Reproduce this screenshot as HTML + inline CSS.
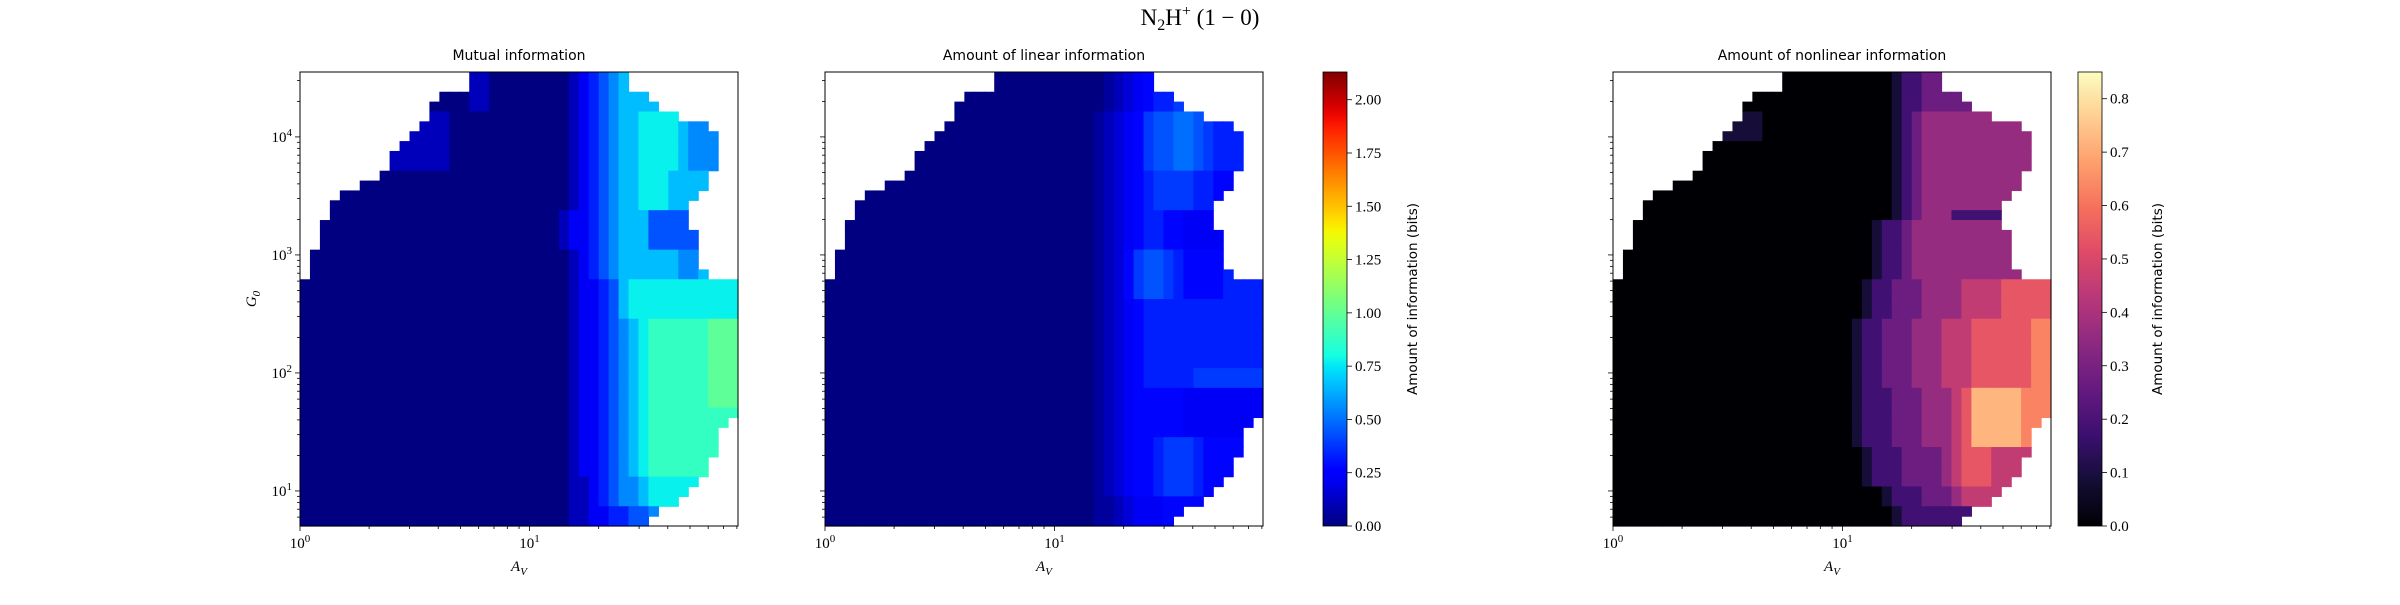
<!DOCTYPE html>
<html><head><meta charset="utf-8"><style>
html,body{margin:0;padding:0;background:#fff;}
svg text{font-family:"Liberation Serif",serif;}
.sans{font-family:"DejaVu Sans","Liberation Sans",sans-serif !important;}
</style></head><body>
<svg id="fig" width="2400" height="600" viewBox="0 0 2400 600" xmlns="http://www.w3.org/2000/svg">
<text x="1200" y="25" text-anchor="middle" font-size="23">N<tspan font-size="16" dy="5">2</tspan><tspan dy="-5">H</tspan><tspan font-size="16" dy="-9">+</tspan><tspan dy="9"> (1 − 0)</tspan></text>
<g id="layer"></g>
</svg>
<script>
const logAvRange = [0, 1.908];
const logG0Range = [0.703, 4.55];
const nCols = 44;
const rowStart = [17,17,14,13,13,12,11,10,9,9,8,6,4,3,3,2,2,2,1,1,1,0,0,0,0,0,0,0,0,0,0,0,0,0,0,0,0,0,0,0,0,0,0,0,0,0];
const rowEnd   = [32,32,34,35,37,40,41,41,41,41,40,40,39,38,38,38,39,39,39,39,40,43,43,43,43,43,43,43,43,43,43,43,43,43,43,42,41,41,41,40,40,39,38,37,35,34];

// Mutual information: row patterns (digit * 0.11 bits) and how many rows each covers (top to bottom)
const mutualPatterns = [
"0000000000 0000000110 0000000123 4566667666 6666",
"0000000001 1111100000 0000000123 4566777765 5555",
"0000000000 0000000000 0000000123 4566777666 6666",
"0000000000 0000000000 0000001223 4566644444 4444",
"0000000000 0000000000 0000000123 4566666655 6666",
"0000000000 0000000000 0000000122 3467777777 7777",
"0000000000 0000000000 0000000122 3456788888 8999",
"0000000000 0000000000 0000000122 3456788888 8888",
"0000000000 0000000000 0000000112 3455677777 7777",
"0000000000 0000000000 0000000112 2334455555 5555"];
const mutualCounts = [4,6,4,4,3,4,9,7,3,2];
const mutualStep = 0.11;

// Linear information (digit * 0.055 bits)
const linearPatterns = [
"0000000000 0000000000 0000000012 3456677777 7777",
"0000000000 0000000000 0000000123 4578899876 6666",
"0000000000 0000000000 0000000123 4567777665 5555",
"0000000000 0000000000 0000000123 4566554444 4444",
"0000000000 0000000000 0000000123 5788765555 6666",
"0000000000 0000000000 0000000123 4566666666 6666",
"0000000000 0000000000 0000000123 4566666777 7777",
"0000000000 0000000000 0000000123 4555554444 4444",
"0000000000 0000000000 0000000123 4556777655 5555",
"0000000000 0000000000 0000000112 3444555555 5555"];
const linearCounts = [4,6,4,4,5,7,2,5,6,3];
const linearStep = 0.055;

// Nonlinear information (digit * 0.09 bits)
const nonlinearPatterns = [
"0000000000 0000000000 0000000012 2333333333 3333",
"0000000000 0111100000 0000000012 3444444444 4444",
"0000000000 0000000000 0000000012 3444444444 4444",
"0000000000 0000000000 0000000012 3444222224 4444",
"0000000000 0000000000 0000001223 4444444444 4444",
"0000000000 0000000000 0000012233 3444455556 6666",
"0000000000 0000000000 0000122333 4445556666 6677",
"0000000000 0000000000 0000122233 3444568888 8777",
"0000000000 0000000000 0000012223 3334566655 5555",
"0000000000 0000000000 0000000122 2333455555 5555",
"0000000000 0000000000 0000000012 2222222222 2222"];
const nonlinearCounts = [4,3,7,1,6,4,7,6,4,2,2];
const nonlinearStep = 0.09;

const jetTicks = [0,0.25,0.5,0.75,1.0,1.25,1.5,1.75,2.0];
const jetTickLabels = ["0.00","0.25","0.50","0.75","1.00","1.25","1.50","1.75","2.00"];
const jetMax = 2.13;
const magmaTicks = [0,0.1,0.2,0.3,0.4,0.5,0.6,0.7,0.8];
const magmaTickLabels = ["0.0","0.1","0.2","0.3","0.4","0.5","0.6","0.7","0.8"];
const magmaMax = 0.85;

const NS="http://www.w3.org/2000/svg";
const layer=document.getElementById('layer');
function mk(tag,attrs,parent){const e=document.createElementNS(NS,tag);for(const k in attrs)e.setAttribute(k,attrs[k]);(parent||layer).appendChild(e);return e;}
function expand(p,c){const out=[];p.forEach((s,i)=>{for(let k=0;k<c[i];k++)out.push(s.replace(/ /g,''));});return out;}

function interp(stops,f){f=Math.max(0,Math.min(1,f));for(let i=1;i<stops.length;i++){if(f<=stops[i][0]){const a=stops[i-1],b=stops[i];const t=(f-a[0])/(b[0]-a[0]||1);return a[1]+(b[1]-a[1])*t;}}return stops[stops.length-1][1];}
const jR=[[0,0],[0.35,0],[0.66,1],[0.89,1],[1,0.5]],jG=[[0,0],[0.125,0],[0.375,1],[0.64,1],[0.91,0],[1,0]],jB=[[0,0.5],[0.11,1],[0.34,1],[0.65,0],[1,0]];
function jet(f){return `rgb(${Math.round(255*interp(jR,f))},${Math.round(255*interp(jG,f))},${Math.round(255*interp(jB,f))})`;}
const mg=[[0,0,0,4],[0.1,20,14,54],[0.2,59,15,112],[0.3,101,26,128],[0.4,140,41,129],[0.5,183,55,121],[0.6,222,73,104],[0.7,246,111,92],[0.8,254,159,109],[0.9,254,206,145],[1,252,253,191]];
function magma(f){f=Math.max(0,Math.min(1,f));let i=1;while(i<mg.length-1&&f>mg[i][0])i++;const a=mg[i-1],b=mg[i],t=(f-a[0])/(b[0]-a[0]);return `rgb(${Math.round(a[1]+(b[1]-a[1])*t)},${Math.round(a[2]+(b[2]-a[2])*t)},${Math.round(a[3]+(b[3]-a[3])*t)})`;}

const TOP=72,BOT=526,W=438;
function makeX(left){return v=>left+(v-logAvRange[0])/(logAvRange[1]-logAvRange[0])*W;}
function yScale(v){return BOT-(v-logG0Range[0])/(logG0Range[1]-logG0Range[0])*(BOT-TOP);}

function panel(left,rows,step,cmap,vmax,title,name,showY){
  const g=mk('g',{});
  
  
  const xs=makeX(left);
  const nRows=rows.length;
  const dLx=(logAvRange[1]-logAvRange[0])/nCols, dLy=(logG0Range[1]-logG0Range[0])/nRows;
  rows.forEach((s,r)=>{
    for(let c=rowStart[r];c<=rowEnd[r];c++){
      const v=parseInt(s[c])*step;
      const x0=xs(logAvRange[0]+c*dLx),x1=xs(logAvRange[0]+(c+1)*dLx);
      const yTop=yScale(logG0Range[1]-r*dLy),yBot=yScale(logG0Range[1]-(r+1)*dLy);
      const rc=mk('rect',{x:x0.toFixed(2),y:yTop.toFixed(2),width:(x1-x0+0.6).toFixed(2),height:(yBot-yTop+0.6).toFixed(2),fill:cmap(v/vmax)},g);
      
      
    }
  });
  const fr=mk('rect',{x:left,y:TOP,width:W,height:BOT-TOP,fill:'none',stroke:'#000','stroke-width':1},g);
  
  
  const t=mk('text',{x:left+W/2,y:60,'text-anchor':'middle','font-size':14,class:'sans'},g);
  t.textContent=title;
  
  
  for(let n=0;n<=1;n++)for(let k=1;k<=9;k++){
    const lv=n+Math.log10(k); if(lv>logAvRange[1])continue;
    const x=xs(lv),len=k===1?5:3;
    mk('line',{x1:x,x2:x,y1:BOT,y2:BOT+len,stroke:'#000','stroke-width':0.8},g);
    if(k===1){const tl=mk('text',{x:x,y:548,'text-anchor':'middle','font-size':15},g);
      tl.innerHTML='10<tspan font-size="11" dy="-6">'+n+'</tspan>';
      
      }
  }
  const xl=mk('text',{x:left+W/2,y:571,'text-anchor':'middle','font-size':15,'font-style':'italic'},g);
  xl.innerHTML='A<tspan font-size="11" dy="4">V</tspan>';
  
  
  for(let n=0;n<=4;n++)for(let k=1;k<=9;k++){
    const lv=n+Math.log10(k); if(lv<logG0Range[0]||lv>logG0Range[1])continue;
    const y=yScale(lv),len=k===1?5:3;
    mk('line',{x1:left,x2:left-len,y1:y,y2:y,stroke:'#000','stroke-width':0.8},g);
    if(k===1&&showY){const tl=mk('text',{x:left-8,y:y+5,'text-anchor':'end','font-size':15},g);
      tl.innerHTML='10<tspan font-size="11" dy="-6">'+n+'</tspan>';
      
      }
  }
  if(showY){const yl=mk('text',{x:0,y:0,'text-anchor':'middle','font-size':15,'font-style':'italic',transform:'translate(256,299) rotate(-90)'},g);
    yl.innerHTML='G<tspan font-size="11" dy="4">0</tspan>';
    
    }
}

function colorbar(x,cmap,vmax,ticks,labels,name,labelX){
  const g=mk('g',{});
  
  
  const id='grad-'+name;
  const defs=mk('defs',{},g);
  const lg=mk('linearGradient',{id:id,x1:0,y1:1,x2:0,y2:0},defs);
  for(let i=0;i<=40;i++)mk('stop',{offset:i/40,'stop-color':cmap(i/40)},lg);
  mk('rect',{x:x,y:TOP,width:24,height:BOT-TOP,fill:'url(#'+id+')',stroke:'#000','stroke-width':0.8},g);
  ticks.forEach((v,i)=>{
    const y=BOT-v/vmax*(BOT-TOP);
    mk('line',{x1:x+24,x2:x+29,y1:y,y2:y,stroke:'#000','stroke-width':0.8},g);
    const t=mk('text',{x:x+32,y:y+5,'font-size':15},g);
    t.textContent=labels[i];
    
    
  });
  const lab=mk('text',{x:0,y:0,'text-anchor':'middle','font-size':13.5,class:'sans',transform:`translate(${labelX},299) rotate(-90)`},g);
  lab.textContent='Amount of information (bits)';
  
  
}

panel(300,expand(mutualPatterns,mutualCounts),mutualStep,jet,jetMax,'Mutual information','mutual-information',true);
panel(825,expand(linearPatterns,linearCounts),linearStep,jet,jetMax,'Amount of linear information','linear-information',false);
panel(1613,expand(nonlinearPatterns,nonlinearCounts),nonlinearStep,magma,magmaMax,'Amount of nonlinear information','nonlinear-information',false);
colorbar(1323,jet,jetMax,jetTicks,jetTickLabels,'jet-colorbar',1417);
colorbar(2078,magma,magmaMax,magmaTicks,magmaTickLabels,'magma-colorbar',2162);
</script>
</body></html>
